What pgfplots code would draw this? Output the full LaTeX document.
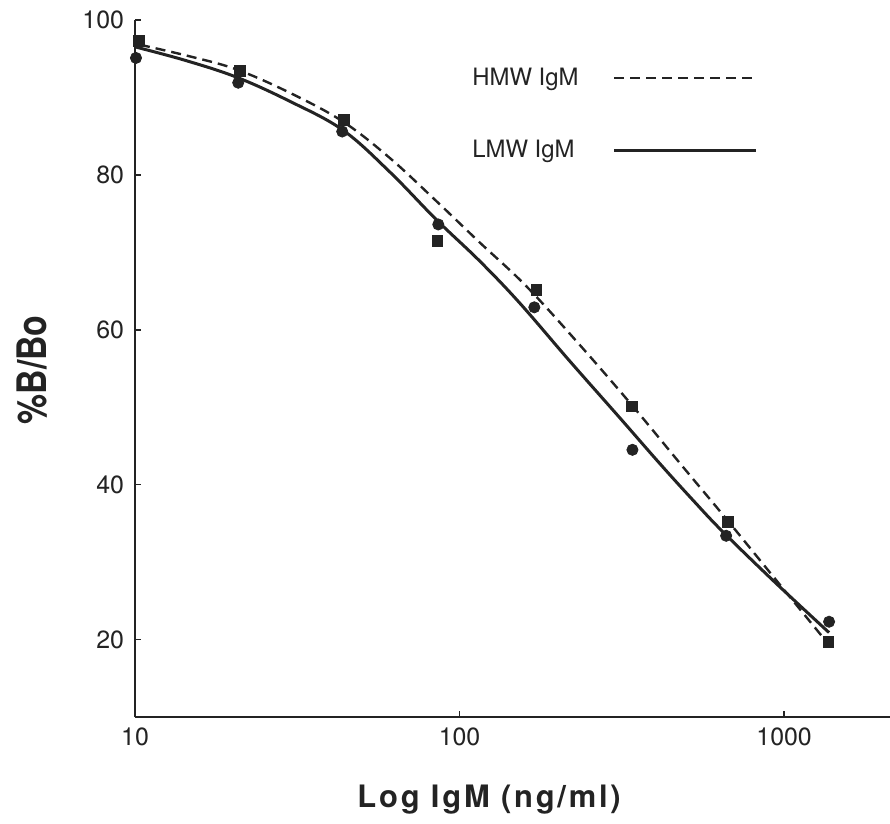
\documentclass[border=0pt]{standalone}
\usepackage{fontspec}
\setmainfont{TeX Gyre Heros}
\usepackage{pgfplots}
\pgfplotsset{compat=1.18}
\definecolor{ink}{RGB}{35,35,35}
\begin{document}
\begin{tikzpicture}
\begin{axis}[
  scale only axis,
  width=377.5bp, height=348.5bp,
  xmode=log, xmin=10, xmax=2120, ymin=10, ymax=100,
  axis x line*=bottom, axis y line*=left,
  axis line style={line width=1bp, ink},
  xtick={10,100,1000}, xticklabels={10,100,1000},
  xminorticks=false,
  ytick={20,40,60,80,100},
  tick align=inside, major tick length=3bp,
  tick style={line width=0.8bp, ink},
  ticklabel style={font=\fontsize{12.5}{14}\selectfont, text=ink},
  yticklabel style={xshift=-2bp},
  xticklabel style={yshift=-2bp},
  /pgf/number format/assume math mode=true,
  clip=false,
  xlabel={\fontsize{15.5}{18}\selectfont\bfseries\addfontfeatures{LetterSpace=9}Log IgM (ng/ml)},
  xlabel style={at={(axis description cs:0.469,-0.119)}, anchor=center, text=ink},
  ylabel={\scalebox{1}[1.2]{\fontsize{17}{18}\selectfont\bfseries \%B/Bo}},
  ylabel style={at={(axis description cs:-0.1364,0.498)}, anchor=center, text=ink},
  legend plot pos=right,
  legend image code/.code={\draw[#1] (0bp,0bp) -- (71bp,0bp);},
  legend style={at={(rel axis cs:0.441,0.938)}, anchor=north west, draw=none, fill=none,
    font=\fontsize{12}{14}\selectfont, text=ink, row sep=22bp, column sep=15bp,
    cells={anchor=west}, inner sep=0pt},
]
\addplot[ink, line width=1.2bp, dash pattern=on 5bp off 3bp, smooth, tension=0.6]
  coordinates {(10.36,96.8)(14.77,95.3)(20.6,93.6)(30.0,90.6)(43.65,86.9)(60.9,82.2)(84.9,76.6)(115.2,71.3)(160.8,65.6)(234,58.1)(340.7,50.2)(485.6,42.4)(663,35.6)(931.6,28.0)(1346,19.8)};
\addlegendentry{HMW IgM}
\addplot[ink, line width=1.5bp, smooth, tension=0.6]
  coordinates {(10.07,96.5)(14.25,94.8)(20.6,92.6)(30.0,89.5)(43.65,85.8)(60.9,80.4)(84.9,74.2)(115.2,68.9)(152.9,63.5)(218.1,56.0)(310.7,48.7)(412.5,42.8)(521.2,38.1)(644.6,34.0)(931.6,27.5)(1375.7,20.9)};
\addlegendentry{LMW IgM}
\addplot[only marks, mark=square*, mark size=2.7bp, ink, forget plot]
  coordinates {(10.29,97.3)(21.0,93.4)(43.9,87.1)(85.5,71.5)(172.6,65.2)(340,50.1)(673,35.2)(1370,19.7)};
\addplot[only marks, mark=*, mark size=2.8bp, ink, forget plot]
  coordinates {(10.07,95.1)(20.8,91.9)(43.5,85.6)(86,73.6)(170,62.9)(341,44.5)(663,33.4)(1376,22.3)};
\end{axis}
\pgfresetboundingbox
\path[use as bounding box] (-67.5bp,-53.5bp) rectangle (377.5bp,358.5bp);
\end{tikzpicture}
\end{document}
